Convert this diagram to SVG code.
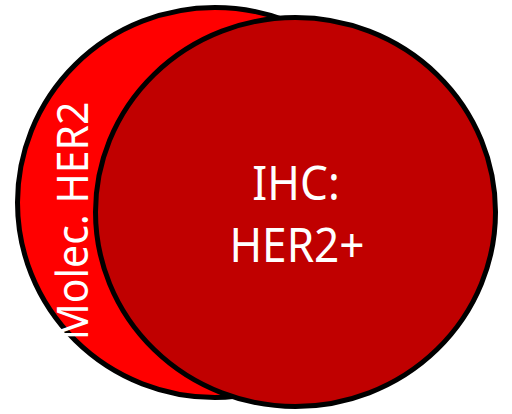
<svg xmlns="http://www.w3.org/2000/svg" width="512" height="414" viewBox="0 0 512 414">
<style>
.shape{stroke:#000;stroke-width:5}
.lbl{fill:#fff;font-family:"Noto Sans","Open Sans",sans-serif;text-anchor:middle}
</style>
<rect width="512" height="414" fill="#fff"/>
<g id="molec">
<ellipse class="shape" cx="215" cy="202.5" rx="197.5" ry="195" fill="#FF0000"/>
<text class="lbl" font-size="44" transform="translate(88,221) rotate(-90) scale(0.93,1)">Molec. HER2</text>
</g>
<g id="ihc">
<ellipse class="shape" cx="295.5" cy="212" rx="200" ry="194.5" fill="#C00000"/>
<text class="lbl" font-size="48" transform="translate(296,200) scale(0.92,1)">IHC:</text>
<text class="lbl" font-size="48" transform="translate(297,262) scale(0.92,1)">HER2+</text>
</g>
<g id="connectors"/>
</svg>
